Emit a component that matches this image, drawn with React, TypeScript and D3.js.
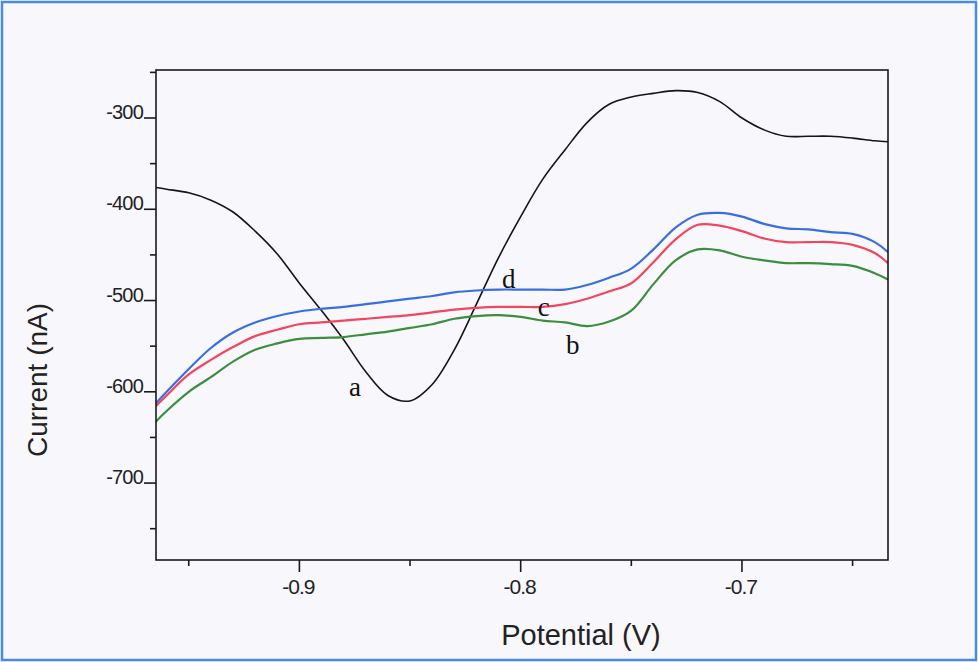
import React from "react";
import * as d3 from "d3";

// Potential (V) sample points
const potentials = [
  -0.965, -0.96, -0.95, -0.94, -0.93, -0.92, -0.91, -0.9, -0.89, -0.88, -0.87,
  -0.86, -0.85, -0.84, -0.83, -0.82, -0.81, -0.8, -0.79, -0.78, -0.77, -0.76,
  -0.75, -0.74, -0.73, -0.72, -0.71, -0.7, -0.69, -0.68, -0.67, -0.66, -0.65,
  -0.64, -0.634,
];

// Current (nA) for each curve
const curveA = [
  -376, -378, -382, -390, -403, -424, -449, -481, -511, -543, -578, -604, -610,
  -592, -554, -504, -453, -408, -367, -335, -305, -285, -277, -273, -270, -272,
  -282, -300, -313, -320, -320, -320, -322, -325, -326,
];
const curveB = [
  -633, -621, -600, -584, -567, -554, -547, -542, -541, -540, -537, -534, -530,
  -526, -520, -517, -516, -518, -522, -524, -528, -523, -511, -482, -456, -444,
  -445, -452, -456, -459, -459, -460, -462, -470, -477,
];
const curveC = [
  -616, -604, -581, -565, -551, -539, -532, -526, -524, -522, -520, -518, -516,
  -513, -510, -508, -507, -507, -507, -504, -498, -490, -481, -458, -433, -417,
  -418, -424, -432, -436, -436, -436, -439, -448, -459,
];
const curveD = [
  -613, -600, -575, -552, -535, -524, -517, -512, -509, -507, -504, -501, -498,
  -495, -491, -489, -488, -488, -488, -488, -483, -475, -465, -444, -420, -406,
  -404, -408, -416, -421, -422, -425, -427, -436, -447,
];

const seriesNames = ["a", "b", "c", "d"];
const seriesColors = ["#151515", "#3d8d3f", "#f0465e", "#3a6ee0"];

// curve label annotations [potential, current]
const labelNames = ["a", "b", "c", "d"];
const labelPotentials = [-0.8749, -0.7765, -0.7896, -0.8054];
const labelCurrents = [-594.5, -548.5, -506.8, -476.1];

const xMajorTicks = [-0.9, -0.8, -0.7];
const xMinorTicks = [-0.95, -0.85, -0.75, -0.65];
const yMajorTicks = [-300, -400, -500, -600, -700];
const yMinorTicks = [-250, -350, -450, -550, -650, -750];

const W = 978;
const H = 662;
const plot = { left: 156, right: 888, top: 70, bottom: 560 };

export default function App() {
  const x = d3.scaleLinear().domain([-0.9648, -0.634]).range([plot.left, plot.right]);
  const y = d3.scaleLinear().domain([-784.3, -247.4]).range([plot.bottom, plot.top]);

  const allSeries = [curveA, curveB, curveC, curveD];
  const line = d3
    .line<[number, number]>()
    .x((d) => x(d[0]))
    .y((d) => y(d[1]))
    .curve(d3.curveCatmullRom.alpha(0.5));

  const font = "'Liberation Sans', Arial, sans-serif";

  return (
    <svg
      width={W}
      height={H}
      style={{ position: "absolute", left: 0, top: 0, display: "block" }}
    >
      <rect x={0} y={0} width={W} height={H} fill="#ffffff" />
      <rect x={2} y={2} width={W - 4} height={H - 4} fill="#f7f7fc" stroke="#4a8ae0" strokeWidth={2.5} />

      <defs>
        <clipPath id="plotclip">
          <rect x={plot.left} y={plot.top} width={plot.right - plot.left} height={plot.bottom - plot.top} />
        </clipPath>
      </defs>

      <g clipPath="url(#plotclip)">
        {allSeries.map((vals, i) => (
          <path
            key={seriesNames[i]}
            d={line(potentials.map((p, j) => [p, vals[j]]) as [number, number][]) || ""}
            fill="none"
            stroke={seriesColors[i]}
            strokeWidth={i === 0 ? 1.6 : 2.2}
            strokeLinejoin="round"
          />
        ))}
      </g>

      {/* frame */}
      <rect
        x={plot.left}
        y={plot.top}
        width={plot.right - plot.left}
        height={plot.bottom - plot.top}
        fill="none"
        stroke="#1a1a1a"
        strokeWidth={1.6}
      />

      {/* y ticks */}
      {yMajorTicks.map((t) => (
        <g key={"ym" + t}>
          <line x1={plot.left - 12} x2={plot.left} y1={y(t)} y2={y(t)} stroke="#1a1a1a" strokeWidth={1.6} />
          <text
            x={plot.left - 13}
            y={y(t) + 1}
            textAnchor="end"
            fontFamily={font}
            fontSize={20}
            letterSpacing={-0.8}
            fill="#222"
          >
            {t}
          </text>
        </g>
      ))}
      {yMinorTicks.map((t) => (
        <line key={"yn" + t} x1={plot.left - 6} x2={plot.left} y1={y(t)} y2={y(t)} stroke="#1a1a1a" strokeWidth={1.6} />
      ))}

      {/* x ticks */}
      {xMajorTicks.map((t) => (
        <g key={"xm" + t}>
          <line x1={x(t)} x2={x(t)} y1={plot.bottom} y2={plot.bottom + 12} stroke="#1a1a1a" strokeWidth={1.6} />
          <text
            x={x(t) - 1}
            y={plot.bottom + 34}
            textAnchor="middle"
            fontFamily={font}
            fontSize={21}
            letterSpacing={-1}
            fill="#222"
          >
            {d3.format(".1f")(t).replace("−", "-")}
          </text>
        </g>
      ))}
      {xMinorTicks.map((t) => (
        <line key={"xn" + t} x1={x(t)} x2={x(t)} y1={plot.bottom} y2={plot.bottom + 6} stroke="#1a1a1a" strokeWidth={1.6} />
      ))}

      {/* axis titles */}
      <text x={581} y={645} textAnchor="middle" fontFamily={font} fontSize={29} fill="#222">
        Potential (V)
      </text>
      <text
        transform="translate(47,380) rotate(-90)"
        textAnchor="middle"
        fontFamily={font}
        fontSize={28}
        fill="#222"
      >
        Current (nA)
      </text>

      {/* curve labels */}
      {labelNames.map((n, i) => (
        <text
          key={"lab" + n}
          x={x(labelPotentials[i])}
          y={y(labelCurrents[i])}
          textAnchor="middle"
          dominantBaseline="central"
          fontFamily="'Liberation Serif', 'Times New Roman', serif"
          fontSize={27}
          fill="#111"
        >
          {n}
        </text>
      ))}
    </svg>
  );
}
